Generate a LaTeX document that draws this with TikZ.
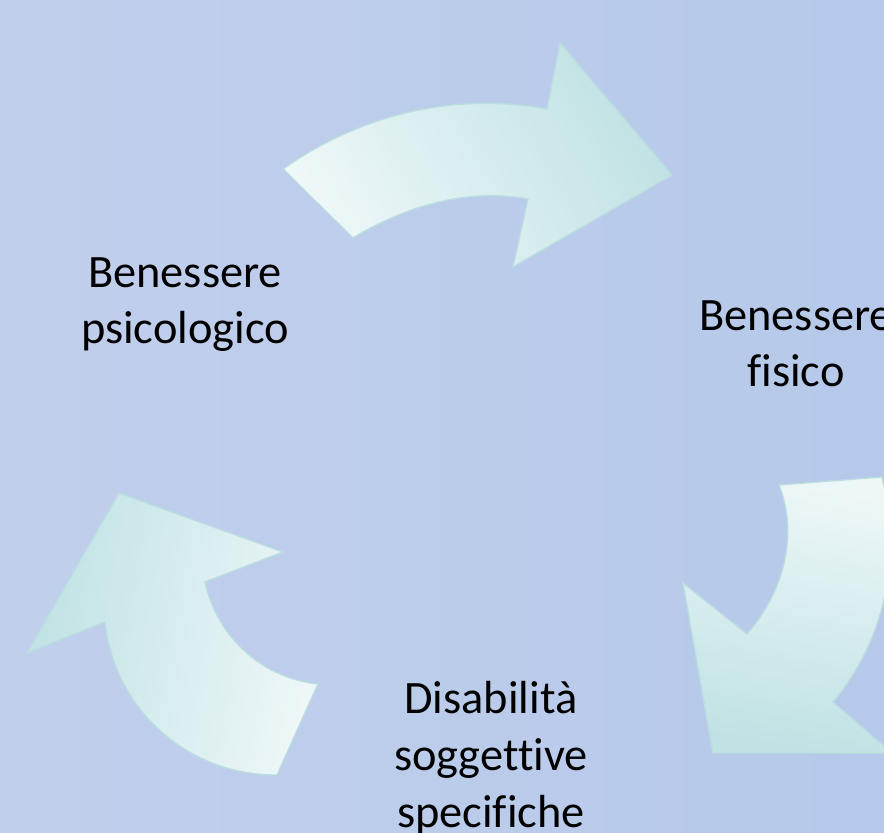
\documentclass[tikz,border=0pt]{standalone}
\usepackage{fontspec}
\setmainfont[Ligatures={NoCommon}]{Carlito}
\definecolor{bgleft}{HTML}{C1CFEC}
\definecolor{bgright}{HTML}{B6C9EA}
\definecolor{arrlight}{HTML}{EEF7F8}
\definecolor{arrteal}{HTML}{C0E2E4}
\definecolor{arredge}{HTML}{BADDE1}
\tikzset{
  cyclearrow/.style={draw=arredge, line width=1pt, line join=miter},
  cyclelabel/.style={align=center, anchor=base, inner sep=0pt, text=black,
    font=\fontsize{33}{40.4}\selectfont}
}
\begin{document}
\begin{tikzpicture}[x=0.025cm,y=-0.025cm]
	\useasboundingbox (0,0) rectangle (884,833);
	\clip (0,0) rectangle (884,833);
	\shade[left color=bgleft, right color=bgright] (0,0) rectangle (884,833);
	% arrow from psicologico to fisico
	\coordinate (T1) at (353,238);
	\coordinate (T2) at (283,169);
	\coordinate (T3) at (547,109);
	\coordinate (T4) at (560,43);
	\coordinate (T5) at (672,175);
	\coordinate (T6) at (513,267);
	\coordinate (T7) at (528,199);
	\path[cyclearrow, top color=arrteal, bottom color=arrlight, shading angle=-60]
		(T1) -- (T2) .. controls (359.5,114.6) and (454.7,91.7) .. (T3)
		-- (T4) -- (T5) -- (T6) -- (T7)
		.. controls (467,188) and (406,206) .. (T1) -- cycle;
	% arrow from fisico to disabilita
	\coordinate (R1) at (779,485);
	\coordinate (R2) at (882,477);
	\coordinate (R3) at (833,702);
	\coordinate (R4) at (892,753);
	\coordinate (R5) at (713,753);
	\coordinate (R6) at (683,583);
	\coordinate (R7) at (747,634);
	\path[cyclearrow, top color=arrlight, bottom color=arrteal, shading angle=-10]
		(R1) -- (R2) .. controls (902.6,556) and (885.5,639.5) .. (R3)
		-- (R4) -- (R5) -- (R6) -- (R7)
		.. controls (783,593) and (799,536) .. (R1) -- cycle;
	% arrow from disabilita to psicologico
	\coordinate (L1) at (119,493);
	\coordinate (L2) at (283,552);
	\coordinate (L3) at (205,582);
	\coordinate (L4) at (318,684);
	\coordinate (L5) at (277,775);
	\coordinate (L6) at (105,622);
	\coordinate (L7) at (27,653);
	\path[cyclearrow, top color=arrteal, bottom color=arrlight, shading angle=80]
		(L1) -- (L2) -- (L3)
		.. controls (217,637) and (262,678) .. (L4)
		-- (L5) .. controls (189,776) and (114,710) .. (L6)
		-- (L7) -- cycle;
	\node[cyclelabel] (psico) at (185,344) {Benessere\\psicologico};
	\node[cyclelabel] (fisico) at (796,387) {Benessere\\fisico};
	\node[cyclelabel] (disab) at (491,827) {Disabilità\\soggettive\\specifiche};
\end{tikzpicture}
\end{document}
